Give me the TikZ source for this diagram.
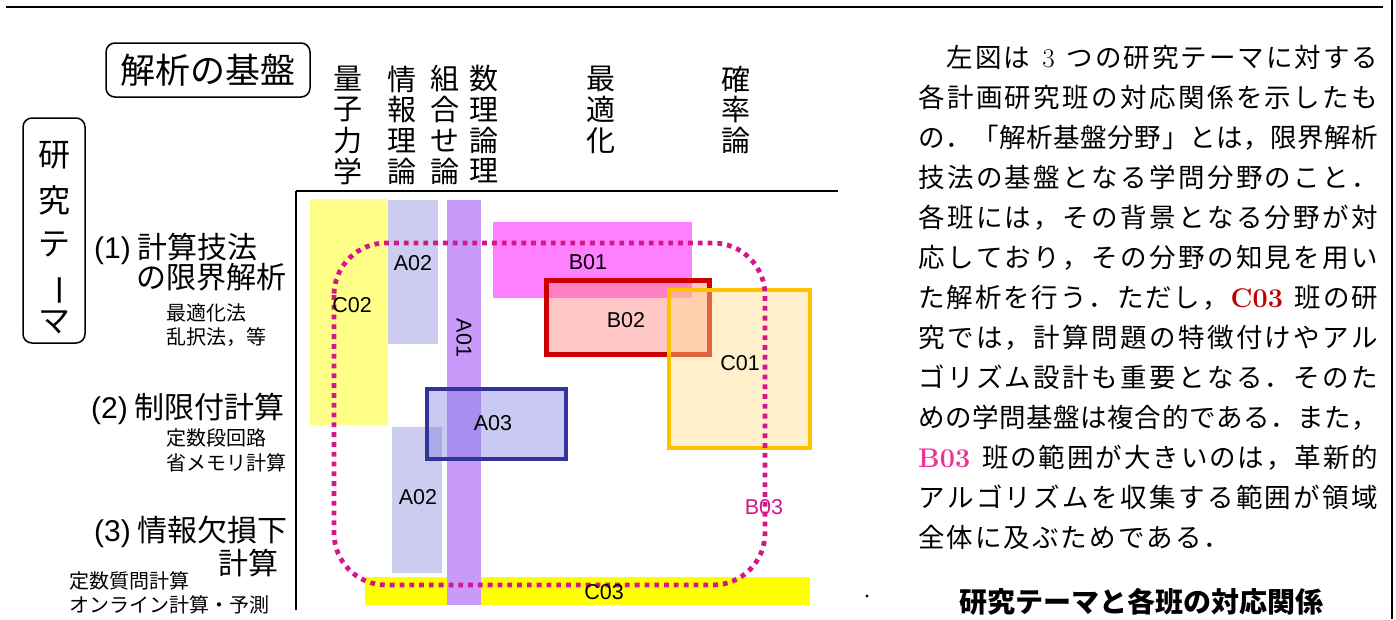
\documentclass[tikz,border=0pt]{standalone}
\usepackage{fontspec}
\usepackage{graphicx}
\newfontfamily\jp{Noto Sans CJK JP}
\newfontfamily\arial{Liberation Sans}
\definecolor{cA}{RGB}{255,255,136}
\definecolor{cB}{RGB}{204,204,240}
\definecolor{cP}{RGB}{200,155,250}
\definecolor{cY}{RGB}{255,255,0}
\definecolor{cM}{RGB}{255,128,255}
\definecolor{cRed}{RGB}{204,0,0}
\definecolor{cRedF}{RGB}{255,128,128}
\definecolor{cOr}{RGB}{255,192,0}
\definecolor{cOrF}{RGB}{255,220,140}
\definecolor{cBl}{RGB}{51,51,153}
\definecolor{cBlF}{RGB}{120,120,220}
\definecolor{cDot}{RGB}{214,20,140}
\definecolor{cTxtRed}{RGB}{192,0,0}
\definecolor{cTxtPink}{RGB}{240,48,150}
% spread characters: \hfil between each pair of characters
\def\spr#1{\sprfirst#1\relax}
\def\sprfirst#1{#1\spri}
\def\spri#1{\ifx\relax#1\else\hfil#1\expandafter\spri\fi}
\begin{document}
\begin{tikzpicture}[x=1pt,y=-1pt,
  hdr/.style={inner sep=0pt, font=\jp\fontsize{29}{29}\selectfont},
  vchar/.style={inner sep=0pt, font=\jp\fontsize{32}{32}\selectfont},
  theme/.style={inner sep=0pt, font=\jp\fontsize{30}{30}\selectfont, anchor=base west},
  subl/.style={inner sep=0pt, font=\jp\fontsize{20}{20}\selectfont, anchor=base west},
  lab/.style={inner sep=0pt, font=\arial\fontsize{21.5}{21.5}\selectfont},
  body/.style={inner sep=0pt, font=\jp\fontsize{26.5}{26.5}\selectfont, anchor=base west},
  frameline/.style={line width=1.5pt},
  b03line/.style={draw=cDot, line width=4.8pt, dash pattern=on 4.8pt off 5pt}
]
\useasboundingbox (0,0) rectangle (1396,619);
% page rules
\draw[line width=2.5pt] (6,7) -- (1383,7);
\draw[line width=2.5pt] (1392,0) -- (1392,619);
\fill (867,596) circle (1.6);

% title boxes
\node[draw, frameline, rounded corners=9pt, minimum width=204pt, minimum height=54pt, inner sep=0pt,
      font=\jp\fontsize{35}{35}\selectfont] (kiban) at (208,70) {解析の基盤};
\draw[frameline, rounded corners=9pt] (23,118) rectangle (85,343);
\node[vchar] (k1) at (54,155) {研};
\node[vchar] (k2) at (54,200) {究};
\node[vchar] (k3) at (54,244) {テ};
\node[vchar] (k4) at (54,290) {\rotatebox{-90}{ー}};
\node[vchar] (k5) at (54,322) {マ};

% column headers
\foreach \c [count=\i from 0] in {量,子,力,学} \node[hdr] (hq\i) at (348,{79+30.7*\i}) {\c};
\foreach \c [count=\i from 0] in {情,報,理,論} \node[hdr] (hj\i) at (402,{79+30.7*\i}) {\c};
\foreach \c [count=\i from 0] in {組,合,せ,論} \node[hdr] (hk\i) at (445,{79+30.7*\i}) {\c};
\foreach \c [count=\i from 0] in {数,理,論,理} \node[hdr] (hs\i) at (484,{79+30.7*\i}) {\c};
\foreach \c [count=\i from 0] in {最,適,化} \node[hdr] (hm\i) at (601,{79+30.7*\i}) {\c};
\foreach \c [count=\i from 0] in {確,率,論} \node[hdr] (hp\i) at (736,{79+30.7*\i}) {\c};

% row labels
\node[theme] (r1a) at (94,258.4) {{\arial (1)} 計算技法};
\node[theme] (r1b) at (136,288.4) {の限界解析};
\node[subl] (s1a) at (166,320.6) {最適化法};
\node[subl] (s1b) at (166,344.6) {乱択法，等};
\node[theme] (r2a) at (91,418.4) {{\arial (2)} 制限付計算};
\node[subl] (s2a) at (166,445.6) {定数段回路};
\node[subl] (s2b) at (166,470.6) {省メモリ計算};
\node[theme] (r3a) at (94,541.4) {{\arial (3)} 情報欠損下};
\node[theme] (r3b) at (218,574.4) {計算};
\node[subl] (s3a) at (69,588.6) {定数質問計算};
\node[subl] (s3b) at (69,612.6) {オンライン計算・予測};

% axes
\draw[frameline] (296,191) -- (838,191);
\draw[frameline] (296,191) -- (296,610);

% research group areas
\fill[cA] (310,199) rectangle (388,425);
\fill[cB] (388,200) rectangle (438,344);
\fill[cB] (392,427) rectangle (442,573);
\fill[cY] (365,577) rectangle (810,605);
\fill[cP] (447,200) rectangle (481,605);
\fill[cM] (493,222) rectangle (692,298);
\filldraw[fill=cBlF, fill opacity=0.4, draw=cBl, line width=4.5pt] (427,389) rectangle (566,459);
\filldraw[fill=cRedF, fill opacity=0.45, draw=cRed, line width=5pt] (546.5,280.5) rectangle (709.5,354.5);
\filldraw[fill=cOrF, fill opacity=0.45, draw=cOr, line width=4pt] (669,290) rectangle (810,448);
\draw[b03line, rounded corners=52pt] (334,243) rectangle (765,585);

% labels
\node[lab] (lC02) at (352,305) {C02};
\node[lab] (lA02a) at (413,263) {A02};
\node[lab] (lA02b) at (418,497) {A02};
\node[lab, rotate=-90] (lA01) at (464,338) {A01};
\node[lab] (lB01) at (588,262) {B01};
\node[lab] (lB02) at (626,320) {B02};
\node[lab] (lC01) at (740,363) {C01};
\node[lab] (lA03) at (493,423) {A03};
\node[lab] (lC03) at (604,592) {C03};
\node[lab, text=cDot] (lB03) at (764,507) {B03};

% explanation text
\node[body] (t1) at (946.75,67.5) {\makebox[431.25pt][s]{\spr{左図は}\hfil\hspace{10pt}{\rmfamily\fontsize{27}{27}\selectfont 3}\hspace{10pt}\hfil\spr{つの研究テーマに対する}}};
\node[body] (t2) at (918,107.5) {\makebox[460pt][s]{\spr{各計画研究班の対応関係を示したも}}};
\node[body] (t3) at (918,147.5) {\makebox[460pt][s]{\spr{の．「解析基盤分野」とは，限界解析}}};
\node[body] (t4) at (918,187.5) {\makebox[460pt][s]{\spr{技法の基盤となる学問分野のこと．}}};
\node[body] (t5) at (918,227.5) {\makebox[460pt][s]{\spr{各班には，その背景となる分野が対}}};
\node[body] (t6) at (918,267.5) {\makebox[460pt][s]{\spr{応しており，その分野の知見を用い}}};
\node[body] (t7) at (918,307.5) {\makebox[460pt][s]{\spr{た解析を行う．ただし，}\hfil{\rmfamily\bfseries\fontsize{27}{27}\selectfont\color{cTxtRed}C03}\hspace{10pt}\hfil\spr{班の研}}};
\node[body] (t8) at (918,347.5) {\makebox[460pt][s]{\spr{究では，計算問題の特徴付けやアル}}};
\node[body] (t9) at (918,387.5) {\makebox[460pt][s]{\spr{ゴリズム設計も重要となる．そのた}}};
\node[body] (t10) at (918,427.5) {\makebox[460pt][s]{\spr{めの学問基盤は複合的である．また，}}};
\node[body] (t11) at (918,467.5) {\makebox[460pt][s]{{\rmfamily\bfseries\fontsize{27}{27}\selectfont\color{cTxtPink}B03}\hspace{10pt}\hfil\spr{班の範囲が大きいのは，革新的}}};
\node[body] (t12) at (918,507.5) {\makebox[460pt][s]{\spr{アルゴリズムを収集する範囲が領域}}};
\node[body] (t13) at (918,547.5) {\makebox[312pt][s]{\spr{全体に及ぶためである．}}};
\node[inner sep=0pt, anchor=base, font=\jp\bfseries\fontsize{28}{28}\selectfont] (cap) at (1141,612.6) {研究テーマと各班の対応関係};
\end{tikzpicture}
\end{document}
